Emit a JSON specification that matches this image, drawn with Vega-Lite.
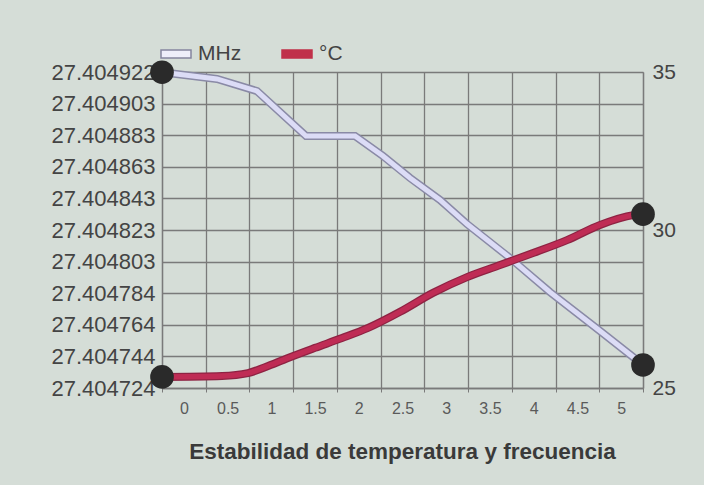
{
  "$schema": "https://vega.github.io/schema/vega-lite/v6.json",
  "width": 481,
  "height": 316,
  "autosize": {"type": "none"},
  "padding": {"left": 162, "top": 72, "right": 61, "bottom": 97},
  "background": "#d5ddd7",
  "config": {"view": {"stroke": null}, "font": "Liberation Sans"},
  "title": {
    "text": "Estabilidad de temperatura y frecuencia",
    "orient": "bottom",
    "anchor": "middle",
    "fontSize": 22.5,
    "fontWeight": "bold",
    "color": "#3a3a3a",
    "font": "Liberation Sans",
    "offset": 25
  },
  "data": {
    "values": [
      {"series": "MHz", "x": -0.25, "value": 27.4049222},
      {"series": "MHz", "x": 0.379, "value": 27.404918},
      {"series": "MHz", "x": 0.836, "value": 27.4049104},
      {"series": "MHz", "x": 1.397, "value": 27.4048822},
      {"series": "MHz", "x": 1.957, "value": 27.4048822},
      {"series": "MHz", "x": 2.277, "value": 27.4048697},
      {"series": "MHz", "x": 2.586, "value": 27.4048559},
      {"series": "MHz", "x": 2.929, "value": 27.4048421},
      {"series": "MHz", "x": 3.238, "value": 27.404827},
      {"series": "MHz", "x": 3.729, "value": 27.4048057},
      {"series": "MHz", "x": 4.187, "value": 27.4047843},
      {"series": "MHz", "x": 4.759, "value": 27.4047599},
      {"series": "MHz", "x": 5.136, "value": 27.4047436},
      {"series": "MHz", "x": 5.25, "value": 27.4047386},
      {"series": "°C", "x": -0.25, "value": 25.35},
      {"series": "°C", "x": 0.436, "value": 25.38},
      {"series": "°C", "x": 0.733, "value": 25.47},
      {"series": "°C", "x": 0.928, "value": 25.66},
      {"series": "°C", "x": 1.191, "value": 25.95},
      {"series": "°C", "x": 1.5, "value": 26.27},
      {"series": "°C", "x": 1.808, "value": 26.58},
      {"series": "°C", "x": 2.106, "value": 26.9},
      {"series": "°C", "x": 2.472, "value": 27.41},
      {"series": "°C", "x": 2.849, "value": 28.01},
      {"series": "°C", "x": 3.238, "value": 28.51},
      {"series": "°C", "x": 3.615, "value": 28.89},
      {"series": "°C", "x": 3.992, "value": 29.27},
      {"series": "°C", "x": 4.381, "value": 29.68},
      {"series": "°C", "x": 4.759, "value": 30.16},
      {"series": "°C", "x": 5.136, "value": 30.47},
      {"series": "°C", "x": 5.25, "value": 30.5}
    ]
  },
  "encoding": {
    "x": {
      "field": "x",
      "type": "quantitative",
      "scale": {"domain": [-0.25, 5.25], "nice": false, "zero": false},
      "axis": {
        "title": null,
        "values": [-0.25, 0.25, 0.75, 1.25, 1.75, 2.25, 2.75, 3.25, 3.75, 4.25, 4.75, 5.25],
        "labelExpr": "datum.value > 5 ? '' : toString(round((datum.value + 0.25) * 10) / 10)",
        "labelOffset": 21.9,
        "labelAlign": "center",
        "labelFontSize": 16,
        "labelColor": "#5a5a5a",
        "labelPadding": 8,
        "tickSize": 4,
        "tickColor": "#7a7a7a",
        "domainColor": "#7a7a7a",
        "domainWidth": 1.3,
        "grid": true,
        "gridColor": "#7a7a7a",
        "gridWidth": 1.3,
        "gridOpacity": 1
      }
    }
  },
  "layer": [
    {
      "transform": [{"filter": "datum.series === 'MHz'"}],
      "encoding": {
        "y": {
          "field": "value",
          "type": "quantitative",
          "scale": {"domain": [27.40472415, 27.40492235], "nice": false, "zero": false},
          "axis": {
            "orient": "left",
            "title": null,
            "values": [27.40472415, 27.40474397, 27.40476379, 27.40478361, 27.40480343, 27.40482325, 27.40484307, 27.40486289, 27.40488271, 27.40490253, 27.40492235],
            "format": ".6f",
            "labelFontSize": 22,
            "labelColor": "#444444",
            "labelPadding": 7,
            "ticks": false,
            "domainColor": "#7a7a7a",
            "domainWidth": 1.3,
            "grid": true,
            "gridColor": "#7a7a7a",
            "gridWidth": 1.3,
            "gridOpacity": 1
          }
        }
      },
      "layer": [
        {"mark": {"type": "line", "stroke": "#8a8aa6", "strokeWidth": 8}},
        {"mark": {"type": "line", "stroke": "#dcdcf6", "strokeWidth": 5}},
        {
          "transform": [{"filter": "datum.x < -0.2 || datum.x > 5.2"}],
          "mark": {"type": "circle", "size": 560, "color": "#2a2a2a", "opacity": 1}
        }
      ]
    },
    {
      "transform": [{"filter": "datum.series === '°C'"}],
      "encoding": {
        "y": {
          "field": "value",
          "type": "quantitative",
          "scale": {"domain": [25, 35], "nice": false, "zero": false},
          "axis": {
            "orient": "right",
            "title": null,
            "values": [25, 30, 35],
            "labelFontSize": 21,
            "labelColor": "#444444",
            "labelPadding": 9,
            "ticks": false,
            "grid": false,
            "domainColor": "#7a7a7a",
            "domainWidth": 1.3
          }
        }
      },
      "layer": [
        {"mark": {"type": "line", "stroke": "#8e2343", "strokeWidth": 8, "interpolate": "monotone"}},
        {"mark": {"type": "line", "stroke": "#bf2c55", "strokeWidth": 5.5, "interpolate": "monotone"}},
        {
          "transform": [{"filter": "datum.x < -0.2 || datum.x > 5.2"}],
          "mark": {"type": "circle", "size": 560, "color": "#2a2a2a", "opacity": 1}
        },
        {
          "transform": [{"filter": "datum.x > 100"}],
          "mark": {"type": "point", "filled": true, "strokeWidth": 1.5, "shape": "M-1,-0.27H1V0.27H-1Z", "size": 900, "opacity": 1},
          "encoding": {
            "fill": {
              "field": "series",
              "type": "nominal",
              "scale": {"domain": ["MHz", "°C"], "range": ["#eeeefa", "#c0304a"]},
              "legend": {
                "orient": "none",
                "legendX": -2,
                "legendY": -34,
                "direction": "horizontal",
                "title": null,
                "symbolType": "M-1,-0.27H1V0.27H-1Z",
                "symbolSize": 900,
                "symbolStrokeWidth": 1.5,
                "symbolOpacity": 1,
                "labelFontSize": 21,
                "labelColor": "#444444",
                "labelFont": "Liberation Sans",
                "columnPadding": 37,
                "labelOffset": 6
              }
            },
            "stroke": {
              "field": "series",
              "type": "nominal",
              "scale": {"domain": ["MHz", "°C"], "range": ["#85859f", "#c0304a"]},
              "legend": {
                "orient": "none",
                "legendX": -2,
                "legendY": -34,
                "direction": "horizontal",
                "title": null,
                "symbolType": "M-1,-0.27H1V0.27H-1Z",
                "symbolSize": 900,
                "symbolStrokeWidth": 1.5,
                "symbolOpacity": 1,
                "labelFontSize": 21,
                "labelColor": "#444444",
                "labelFont": "Liberation Sans",
                "columnPadding": 37,
                "labelOffset": 6
              }
            }
          }
        }
      ]
    }
  ],
  "resolve": {"scale": {"y": "independent"}}
}
